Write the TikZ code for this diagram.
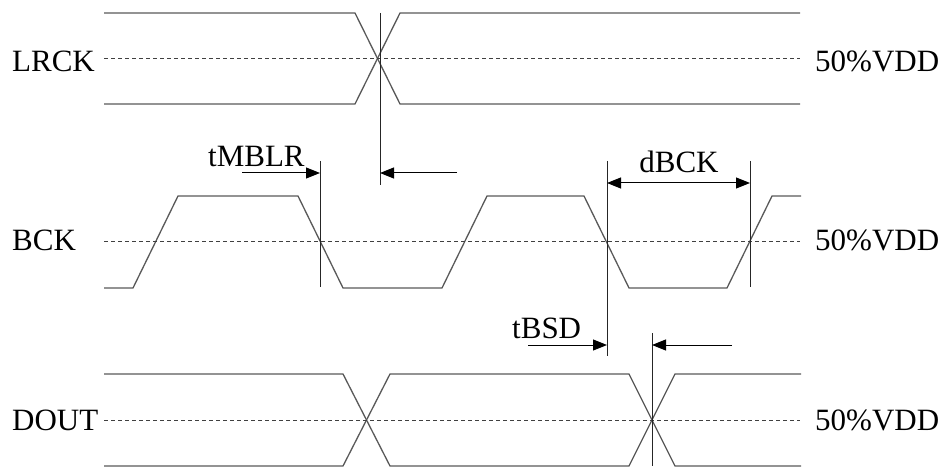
\documentclass[tikz,border=0pt]{standalone}
\usepackage{fontspec}
\setmainfont{Liberation Serif}
\usetikzlibrary{arrows.meta}
\begin{document}
\begin{tikzpicture}[x=1pt,y=-1pt,
  sig/.style={draw=black!65,line width=1.3pt,line join=miter},
  mid/.style={draw=black!75,line width=0.8pt,dash pattern=on 4pt off 3pt},
  refl/.style={draw=black!85,line width=1pt},
  dim/.style={draw=black,line width=1pt,-{Triangle[length=14pt,width=11pt]}},
  dimb/.style={draw=black,line width=1pt,{Triangle[length=14pt,width=11pt]}-{Triangle[length=14pt,width=11pt]}},
  lbl/.style={font=\fontsize{31}{31}\selectfont,inner sep=0pt,anchor=base west,text=black}]
\useasboundingbox (0,0) rectangle (947,470);
% ---------- LRCK ----------
\draw[sig] (104,13) -- (355,13) -- (400,104) -- (800,104);
\draw[sig] (104,104) -- (355,104) -- (400,13) -- (800,13);
\draw[mid] (104,58) -- (800,58);
\node[lbl] (lrck) at (12,72) {LRCK};
\node[lbl] (v1) at (815,72) {50\%VDD};
% ---------- BCK ----------
\draw[sig] (104,288) -- (133,288) -- (178,196) -- (298,196) -- (343,288) -- (442,288)
  -- (487,196) -- (584,196) -- (629,288) -- (727,288) -- (772,196) -- (801,196);
\draw[mid] (104,241) -- (800,241);
\node[lbl] (bck) at (12,251) {BCK};
\node[lbl] (v2) at (815,251) {50\%VDD};
% ---------- DOUT ----------
\draw[sig] (104,374) -- (343,374) -- (390,466) -- (629,466) -- (675,374) -- (801,374);
\draw[sig] (104,466) -- (343,466) -- (390,374) -- (629,374) -- (675,466) -- (801,466);
\draw[mid] (104,420) -- (800,420);
\node[lbl] (dout) at (12,430) {DOUT};
\node[lbl] (v3) at (815,430) {50\%VDD};
% ---------- reference lines ----------
\coordinate (r1t) at (380,13);  \coordinate (r1b) at (380,185);
\coordinate (r2t) at (320,161); \coordinate (r2b) at (320,287);
\coordinate (r3t) at (607,161); \coordinate (r3b) at (607,356);
\coordinate (r4t) at (750,161); \coordinate (r4b) at (750,287);
\coordinate (r5t) at (652,333); \coordinate (r5b) at (652,466);
\draw[refl] (r1t) -- (r1b);
\draw[refl] (r2t) -- (r2b);
\draw[refl] (r3t) -- (r3b);
\draw[refl] (r4t) -- (r4b);
\draw[refl] (r5t) -- (r5b);
% ---------- dimension arrows ----------
\coordinate (a1s) at (457,173); \coordinate (a1e) at (380,173);
\coordinate (a2s) at (242,173); \coordinate (a2e) at (320,173);
\coordinate (a3s) at (607,183); \coordinate (a3e) at (750,183);
\coordinate (a4s) at (528,345); \coordinate (a4e) at (607,345);
\coordinate (a5s) at (732,345); \coordinate (a5e) at (652,345);
\draw[dim] (a1s) -- (a1e);
\draw[dim] (a2s) -- (a2e);
\draw[dimb] (a3s) -- (a3e);
\draw[dim] (a4s) -- (a4e);
\draw[dim] (a5s) -- (a5e);
\node[lbl] (tmblr) at (208,167) {tMBLR};
\node[lbl,anchor=base] (dbck) at (679,173) {dBCK};
\node[lbl] (tbsd) at (512,338) {tBSD};
\end{tikzpicture}
\end{document}
